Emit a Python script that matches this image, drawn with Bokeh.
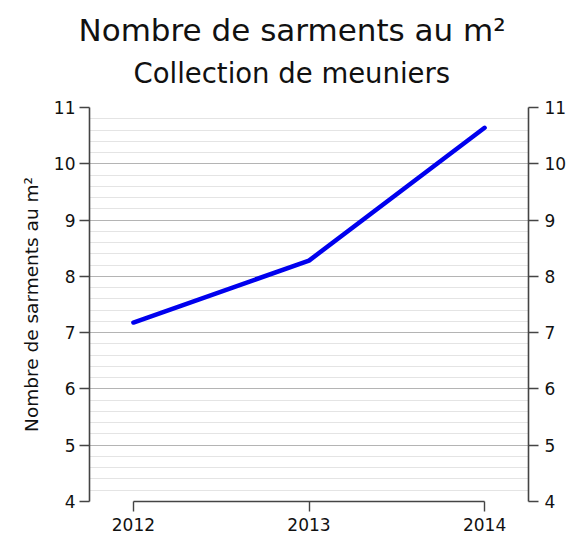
from bokeh.plotting import figure
from bokeh.models import Range1d, LinearAxis, Title, FixedTicker, SingleIntervalTicker
from bokeh.embed import file_html
from bokeh.resources import INLINE

years = [2012, 2013, 2014]
values = [7.18, 8.28, 10.64]
title_text = "Nombre de sarments au m²"
subtitle_text = "Collection de meuniers"
y_label = "Nombre de sarments au m²"

FONT = "DejaVu Sans"
AXIS_COLOR = "#444444"

p = figure(width=572, height=535, output_backend="svg", toolbar_location=None,
           x_range=Range1d(2011.75, 2014.25), y_range=Range1d(4, 11),
           min_border_left=89, min_border_right=44, min_border_bottom=34,
           min_border_top=10)
p.title = None
p.outline_line_color = None
p.background_fill_color = "white"
p.border_fill_color = "white"

spacer = Title(text=" ", align="left", text_font=FONT, text_font_size="4px", standoff=5)
p.add_layout(spacer, "above")
sub = Title(text=subtitle_text, align="left", text_font=FONT, text_font_size="27.5px",
            text_font_style="normal", text_color="#111111", standoff=14, offset=44)
p.add_layout(sub, "above")
main = Title(text=title_text, align="left", text_font=FONT, text_font_size="31px",
             text_font_style="normal", text_color="#111111", standoff=0, offset=-11)
p.add_layout(main, "above")
top_spacer = Title(text=" ", align="left", text_font=FONT, text_font_size="1px", standoff=6)
p.add_layout(top_spacer, "above")

p.line(years, values, line_color="#0000ee", line_width=4.5, line_cap="round")

yt = SingleIntervalTicker(interval=1, num_minor_ticks=5)

# grids
p.xgrid.visible = False
p.ygrid.ticker = yt
p.ygrid.grid_line_color = "#b4b4b4"
p.ygrid.grid_line_width = 1.2
p.ygrid.minor_grid_line_color = "#e4e4e4"
p.ygrid.minor_grid_line_width = 1

def style(ax):
    ax.axis_line_color = AXIS_COLOR
    ax.axis_line_width = 1.6
    ax.major_tick_line_color = AXIS_COLOR
    ax.major_tick_line_width = 1.4
    ax.major_tick_out = 10
    ax.major_tick_in = 0
    ax.minor_tick_line_color = None
    ax.major_label_text_font = FONT
    ax.major_label_text_font_size = "17px"
    ax.major_label_text_color = "#111111"
    ax.major_label_standoff = 4

# bottom axis
xa = p.xaxis[0]
xa.ticker = FixedTicker(ticks=years)
xa.bounds = (years[0], years[-1])
style(xa)
xa.major_tick_out = 10
xa.major_label_standoff = 6

# left axis
ya = p.yaxis[0]
ya.ticker = yt
style(ya)
ya.axis_label = y_label
ya.axis_label_text_font = FONT
ya.axis_label_text_font_size = "18.5px"
ya.axis_label_text_font_style = "normal"
ya.axis_label_text_color = "#111111"
ya.axis_label_standoff = 9

# right axis
ra = LinearAxis(ticker=yt)
style(ra)
ra.major_label_standoff = 6
p.add_layout(ra, "right")

open("out.html", "w").write(file_html(p, INLINE))
